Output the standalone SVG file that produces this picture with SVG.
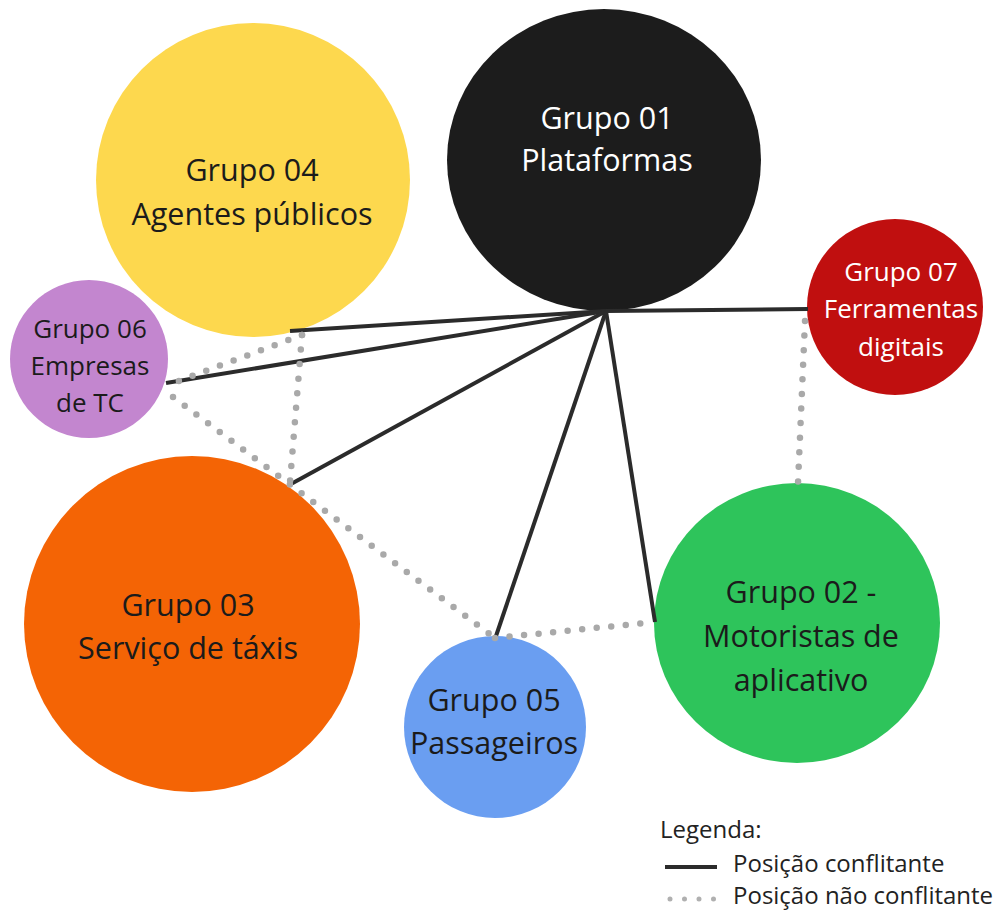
<svg xmlns="http://www.w3.org/2000/svg" width="998" height="910" viewBox="0 0 998 910">
  <style>
    text { font-family: "Open Sans", "Noto Sans", "DejaVu Sans", sans-serif; text-anchor: middle; fill: #1b1b1b; }
    .big { font-size: 30.5px; }
    .small { font-size: 26px; }
    .light { fill: #ffffff; }
    .conflict { stroke: #2b2b2b; stroke-width: 4; fill: none; }
    .calm { stroke: #a9a9a9; stroke-width: 6.5; stroke-linecap: round; stroke-dasharray: 0 14.6; fill: none; }
    .legend { font-size: 24px; text-anchor: start; fill: #222222; }
  </style>
  <rect width="998" height="910" fill="#ffffff"/>

  <!-- Nodes -->
  <g id="grupo01">
    <ellipse cx="604" cy="160" rx="157" ry="151" fill="#1c1c1c"/>
    <text class="big light" x="607" y="129">Grupo 01</text>
    <text class="big light" x="607" y="171">Plataformas</text>
  </g>
  <g id="grupo04">
    <circle cx="253" cy="180" r="157" fill="#fdd84e"/>
    <text class="big" x="252" y="181">Grupo 04</text>
    <text class="big" x="252" y="225">Agentes públicos</text>
  </g>
  <g id="grupo06">
    <circle cx="89" cy="359" r="79" fill="#c386cf"/>
    <text class="small" x="90" y="338">Grupo 06</text>
    <text class="small" x="90" y="375">Empresas</text>
    <text class="small" x="90" y="412">de TC</text>
  </g>
  <g id="grupo07">
    <circle cx="895" cy="307" r="88" fill="#c00f0f"/>
    <text class="small light" x="901" y="281">Grupo 07</text>
    <text class="small light" x="901" y="318">Ferramentas</text>
    <text class="small light" x="901" y="356">digitais</text>
  </g>
  <g id="grupo03">
    <circle cx="192" cy="624" r="168" fill="#f46405"/>
    <text class="big" x="188" y="616">Grupo 03</text>
    <text class="big" x="188" y="659">Serviço de táxis</text>
  </g>
  <g id="grupo05">
    <circle cx="495" cy="727" r="91" fill="#6a9ef1"/>
    <text class="big" x="494" y="711">Grupo 05</text>
    <text class="big" x="494" y="754">Passageiros</text>
  </g>
  <g id="grupo02">
    <ellipse cx="797" cy="623" rx="143" ry="140" fill="#2ec45b"/>
    <text class="big" x="801" y="603">Grupo 02 -</text>
    <text class="big" x="801" y="647">Motoristas de</text>
    <text class="big" x="801" y="691">aplicativo</text>
  </g>

  <!-- Connectors -->
  <g id="connectors">
    <line class="conflict" x1="606" y1="311" x2="290" y2="331"/>
    <line class="conflict" x1="606" y1="311" x2="166" y2="383"/>
    <line class="conflict" x1="606" y1="311" x2="291" y2="484"/>
    <line class="conflict" x1="606" y1="311" x2="495" y2="639"/>
    <line class="conflict" x1="606" y1="311" x2="655" y2="622"/>
    <line class="conflict" x1="606" y1="311" x2="808" y2="309"/>
    <line class="calm" x1="302" y1="335" x2="176" y2="382"/>
    <line class="calm" x1="302" y1="335" x2="290" y2="482"/>
    <line class="calm" x1="173" y1="397" x2="495" y2="638"/>
    <line class="calm" x1="495" y1="638" x2="645" y2="623"/>
    <line class="calm" x1="805" y1="321" x2="798" y2="483"/>
  </g>

  <!-- Legend -->
  <g id="legenda">
    <text class="legend" x="660" y="838">Legenda:</text>
    <line class="conflict" x1="665" y1="867" x2="717" y2="867"/>
    <text class="legend" x="733" y="872">Posição conflitante</text>
    <line x1="670" y1="899" x2="716" y2="899" stroke="#b0b0b0" stroke-width="5" stroke-linecap="round" stroke-dasharray="0 14.5"/>
    <text class="legend" x="733" y="904">Posição não conflitante</text>
  </g>
</svg>
